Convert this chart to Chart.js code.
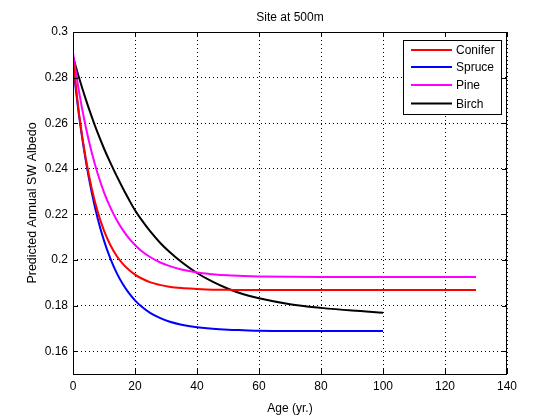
<!DOCTYPE html>
<html>
<head>
<meta charset="utf-8">
<script src="https://cdn.jsdelivr.net/npm/chart.js@4"></script>
<style>
  body { margin: 0; background: #fff; }
  #wrap { width: 560px; height: 420px; }
</style>
</head>
<body>
<div id="wrap"><canvas id="grafico" width="560" height="420"></canvas></div>
<script>
const ages = [0, 2, 4, 6, 8, 10, 12, 14, 16, 18, 20, 22, 25, 28, 31, 35, 40, 45, 50, 55, 60, 70, 80, 90, 100, 110, 120, 130];

// Predicted annual SW albedo per species
const conifer = [0.2875, 0.2637, 0.2455, 0.2316, 0.221, 0.2129, 0.2067, 0.202, 0.1984, 0.1957, 0.1936, 0.192, 0.1902, 0.1891, 0.1883, 0.1877, 0.1873, 0.187, 0.1869, 0.1868, 0.1868, 0.1868, 0.1868, 0.1868, 0.1868, 0.1868, 0.1868, 0.1868];
const spruce = [0.2855, 0.2628, 0.2446, 0.2299, 0.218, 0.2085, 0.2008, 0.1946, 0.1896, 0.1856, 0.1823, 0.1797, 0.1767, 0.1746, 0.173, 0.1716, 0.1705, 0.1698, 0.1694, 0.1692, 0.169, 0.1689, 0.1689, 0.1689, 0.1689];
const pine = [0.2907, 0.2734, 0.2591, 0.2474, 0.2377, 0.2297, 0.2232, 0.2178, 0.2133, 0.2096, 0.2066, 0.2041, 0.2012, 0.199, 0.1974, 0.1958, 0.1945, 0.1938, 0.1933, 0.193, 0.1928, 0.1926, 0.1925, 0.1925, 0.1925, 0.1925, 0.1925, 0.1925];
const birch = [0.2892, 0.2797, 0.271, 0.263, 0.2556, 0.2489, 0.2428, 0.2371, 0.2317, 0.2266, 0.2218, 0.2178, 0.2124, 0.2077, 0.2037, 0.1991, 0.1943, 0.1905, 0.1874, 0.185, 0.1832, 0.1806, 0.179, 0.1778, 0.1769];

// Tick labels
const xTicks = [0, 20, 40, 60, 80, 100, 120, 140];
const yTicks = [0.16, 0.18, 0.2, 0.22, 0.24, 0.26, 0.28, 0.3];

const fonte = 'Arial, "Liberation Sans", Helvetica, sans-serif';

function pontos(valores) {
  return valores.map((v, i) => ({ x: ages[i], y: v }));
}

function serie(nome, valores, cor) {
  return {
    label: nome,
    data: pontos(valores),
    borderColor: cor,
    backgroundColor: cor,
    borderWidth: 2,
    pointRadius: 0,
    fill: false,
    cubicInterpolationMode: 'monotone'
  };
}

// Moldura, ticks internos, título e legenda no estilo MATLAB
const molduraPlugin = {
  id: 'moldura',
  afterDraw(chart) {
    const ctx = chart.ctx;
    const ca = chart.chartArea;
    const sx = chart.scales.x;
    const sy = chart.scales.y;
    ctx.save();
    ctx.strokeStyle = '#000';
    ctx.lineWidth = 1;
    ctx.strokeRect(ca.left + 0.5, ca.top + 0.5, ca.right - ca.left - 1, ca.bottom - ca.top);

    const tam = 5;
    ctx.beginPath();
    xTicks.forEach(t => {
      const px = Math.round(sx.getPixelForValue(t)) + 0.5;
      ctx.moveTo(px, ca.bottom); ctx.lineTo(px, ca.bottom - tam);
      ctx.moveTo(px, ca.top); ctx.lineTo(px, ca.top + tam);
    });
    yTicks.forEach(t => {
      const py = Math.round(sy.getPixelForValue(t)) + 0.5;
      ctx.moveTo(ca.left, py); ctx.lineTo(ca.left + tam, py);
      ctx.moveTo(ca.right, py); ctx.lineTo(ca.right - tam, py);
    });
    ctx.stroke();

    // título
    ctx.fillStyle = '#000';
    ctx.font = '12px ' + fonte;
    ctx.textAlign = 'center';
    ctx.textBaseline = 'middle';
    ctx.fillText('Site at 500m', (ca.left + ca.right) / 2, 18);

    // legenda
    const dsets = chart.data.datasets;
    const lx = ca.right - 104, ly = ca.top + 8, lw = 98, lh = 74;
    ctx.fillStyle = '#fff';
    ctx.fillRect(lx, ly, lw, lh);
    ctx.strokeRect(lx + 0.5, ly + 0.5, lw, lh);
    ctx.textAlign = 'left';
    const linhas = [10, 27, 45, 63.5];
    dsets.forEach((ds, i) => {
      const yy = ly + linhas[i];
      ctx.strokeStyle = ds.borderColor;
      ctx.lineWidth = 2;
      ctx.beginPath();
      ctx.moveTo(lx + 8, yy);
      ctx.lineTo(lx + 49, yy);
      ctx.stroke();
      ctx.fillStyle = '#000';
      ctx.fillText(ds.label, lx + 53, yy + 1);
    });
    ctx.restore();
  }
};

const ctx = document.getElementById('grafico').getContext('2d');
const chart = new Chart(ctx, {
  type: 'line',
  data: {
    datasets: [
      serie('Conifer', conifer, '#ff0000'),
      serie('Spruce', spruce, '#0000ff'),
      serie('Pine', pine, '#ff00ff'),
      serie('Birch', birch, '#000000')
    ]
  },
  options: {
    responsive: false,
    animation: false,
    layout: { padding: { top: 32, right: 53, left: 0, bottom: 0 } },
    plugins: {
      legend: { display: false },
      title: { display: false },
      tooltip: { enabled: false }
    },
    scales: {
      x: {
        type: 'linear',
        min: 0,
        max: 140,
        afterBuildTicks: s => { s.ticks = xTicks.map(v => ({ value: v })); },
        afterFit: s => { s.height = 46; },
        grid: { color: '#000', lineWidth: 1, drawTicks: false },
        border: { display: false, dash: [1, 3] },
        ticks: { color: '#000', padding: 5, font: { family: fonte, size: 12 }, maxRotation: 0 },
        title: { display: true, text: 'Age (yr.)', color: '#000', font: { family: fonte, size: 12 }, padding: { top: 11 } }
      },
      y: {
        type: 'linear',
        min: 0.15,
        max: 0.3,
        afterBuildTicks: s => { s.ticks = yTicks.map(v => ({ value: v })); },
        afterFit: s => { s.width = 73; },
        grid: { color: '#000', lineWidth: 1, drawTicks: false },
        border: { display: false, dash: [1, 3] },
        ticks: { color: '#000', padding: 5, font: { family: fonte, size: 12 }, callback: v => String(+v.toFixed(2)) },
        title: { display: true, text: 'Predicted Annual SW Albedo', color: '#000', font: { family: fonte, size: 12.5 }, padding: { top: 25 } }
      }
    }
  },
  plugins: [molduraPlugin]
});
</script>
</body>
</html>
